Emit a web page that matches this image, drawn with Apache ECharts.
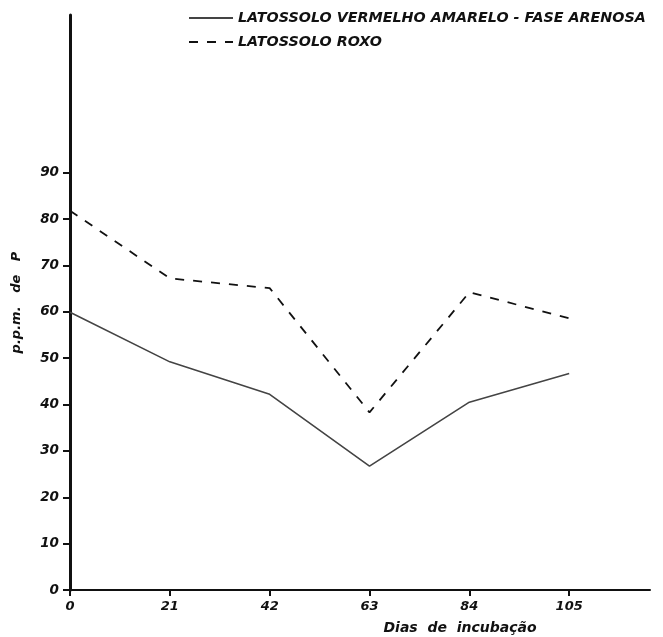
<!DOCTYPE html>
<html><head><meta charset="utf-8">
<script src="https://cdn.jsdelivr.net/npm/echarts@6/dist/echarts.min.js"></script>
<style>html,body{margin:0;padding:0;background:#fff}#c{width:663px;height:637px}</style>
</head><body><div id="c"></div>
<script>
const days = [0, 21, 42, 63, 84, 105];
const xTickLabels = [0, 21, 42, 63, 84, 105];
const yTickLabels = [0, 10, 20, 30, 40, 50, 60, 70, 80, 90];
const seriesNames = ['LATOSSOLO VERMELHO AMARELO - FASE ARENOSA', 'LATOSSOLO ROXO'];
const vermelhoAmarelo = [59.9, 49.2, 42.2, 26.7, 40.5, 46.7];
const roxo = [81.8, 67.2, 65.1, 38.3, 64.2, 58.6];

const font = '"DejaVu Sans", sans-serif';
const chart = echarts.init(document.getElementById('c'));
chart.setOption({
  animation: false,
  backgroundColor: '#fff',
  grid: { left: 70, right: 13, top: 15, bottom: 47, containLabel: false, outerBoundsMode: 'none' },
  legend: {
    orient: 'vertical', left: 183, top: 6,
    itemWidth: 44, itemHeight: 12, itemGap: 10,
    itemStyle: { opacity: 0 },
    textStyle: { fontFamily: font, fontWeight: 'bold', fontStyle: 'italic', fontSize: 14.3, color: '#111' },
    data: seriesNames
  },
  xAxis: {
    type: 'value', min: 0, max: 122, interval: 21,
    name: 'Dias  de  incubação', nameLocation: 'middle', nameGap: 31,
    nameTextStyle: { fontFamily: font, fontWeight: 'bold', fontStyle: 'italic', fontSize: 14, color: '#111', padding: [0, 0, 0, 200] },
    axisLine: { lineStyle: { color: '#111', width: 2 } },
    axisTick: { show: true, length: 6, lineStyle: { color: '#111', width: 2 }, customValues: xTickLabels },
    axisLabel: { customValues: xTickLabels, margin: 10, fontFamily: font, fontWeight: 'bold', fontStyle: 'italic', fontSize: 13, color: '#111' },
    splitLine: { show: false }
  },
  yAxis: {
    type: 'value', min: 0, max: 124, interval: 10,
    name: 'p.p.m.   de   P', nameLocation: 'middle', nameGap: 47, nameRotate: 90,
    nameTextStyle: { fontFamily: font, fontWeight: 'bold', fontStyle: 'italic', fontSize: 13, color: '#111' },
    axisLine: { show: true, lineStyle: { color: '#111', width: 3 } },
    axisTick: { show: true, length: 7, lineStyle: { color: '#111', width: 2 }, customValues: yTickLabels },
    axisLabel: { customValues: yTickLabels, margin: 11, fontFamily: font, fontWeight: 'bold', fontStyle: 'italic', fontSize: 13.5, color: '#111' },
    splitLine: { show: false }
  },
  series: [
    {
      name: seriesNames[0], type: 'line', symbol: 'none',
      data: days.map((d, i) => [d, vermelhoAmarelo[i]]),
      lineStyle: { color: '#444', width: 1.6, type: 'solid' },
      itemStyle: { color: '#444' }
    },
    {
      name: seriesNames[1], type: 'line', symbol: 'none',
      data: days.map((d, i) => [d, roxo[i]]),
      lineStyle: { color: '#111', width: 1.8, type: [9, 9] },
      itemStyle: { color: '#111' }
    }
  ]
});
</script></body></html>
